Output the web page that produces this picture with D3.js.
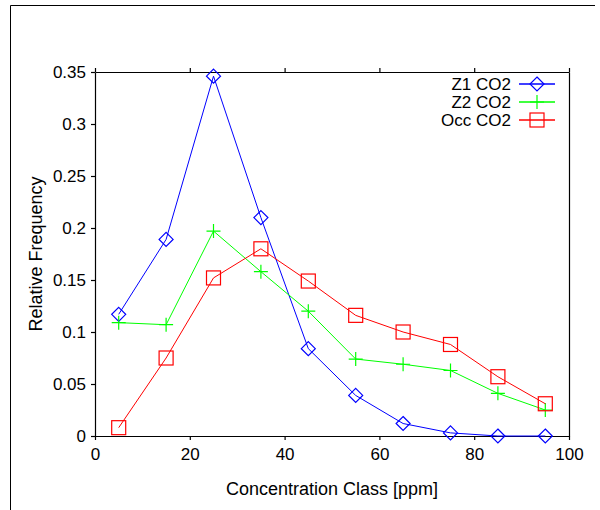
<!DOCTYPE html>
<html>
<head>
<meta charset="utf-8">
<script src="https://cdn.jsdelivr.net/npm/d3@7"></script>
<style>
  body { margin: 0; background: #fff; }
  text { font-family: "Liberation Sans", Arial, sans-serif; fill: #000; }
</style>
</head>
<body>
<div id="chart"></div>
<script>
// concentration classes (x) and relative frequencies per series
const classes = [5, 15, 25, 35, 45, 55, 65, 75, 85, 95];
const z1 = [0.117, 0.189, 0.346, 0.210, 0.084, 0.039, 0.012, 0.003, 0.0, 0.0];
const z2 = [0.109, 0.107, 0.197, 0.158, 0.120, 0.074, 0.069, 0.063, 0.041, 0.025];
const occ = [0.008, 0.075, 0.152, 0.180, 0.149, 0.116, 0.100, 0.088, 0.057, 0.031];
const seriesNames = ["Z1 CO2", "Z2 CO2", "Occ CO2"];
const xTicks = [0, 20, 40, 60, 80, 100];
const yTicks = [0, 0.05, 0.1, 0.15, 0.2, 0.25, 0.3, 0.35];

let svgWidth = 600;
let svgHeight = 510;
let margin = { top: 72, right: 31, bottom: 74, left: 95 };
let chartWidth = svgWidth - margin.left - margin.right;
let chartHeight = svgHeight - margin.top - margin.bottom;

let svg = d3.select("#chart").append("svg")
  .attr("width", svgWidth)
  .attr("height", svgHeight);

// outer frame (top and left edges visible)
svg.append("path")
  .attr("d", "M10.5,510 V5.5 H595")
  .attr("fill", "none")
  .attr("stroke", "#000")
  .attr("stroke-width", 1);

let xScale = d3.scaleLinear().domain([0, 100]).range([0, chartWidth]);
let yScale = d3.scaleLinear().domain([0, 0.35]).range([chartHeight, 0]);

let g = svg.append("g")
  .attr("transform", "translate(" + margin.left + "," + margin.top + ")");

// axes
let fmt = d3.format("");
let bottomAxis = g.append("g")
  .attr("transform", "translate(0," + chartHeight + ")")
  .call(d3.axisBottom(xScale).tickValues(xTicks).tickSize(4).tickPadding(8).tickFormat(fmt));
let topAxis = g.append("g")
  .call(d3.axisTop(xScale).tickValues(xTicks).tickSize(4).tickFormat(""));
let leftAxis = g.append("g")
  .call(d3.axisLeft(yScale).tickValues(yTicks).tickSize(4).tickPadding(5).tickFormat(fmt));
let rightAxis = g.append("g")
  .attr("transform", "translate(" + chartWidth + ",0)")
  .call(d3.axisRight(yScale).tickValues([]).tickSizeOuter(0));

[bottomAxis, topAxis, leftAxis, rightAxis].forEach(function(a) {
  a.selectAll("path.domain").attr("d", a === bottomAxis || a === topAxis
    ? "M0.5,0.5H" + (chartWidth + 0.5)
    : "M0.5,0.5V" + (chartHeight + 0.5));
  a.selectAll("path, line").attr("stroke", "#000").attr("stroke-width", 1.2);
  a.selectAll("text").style("font-size", "17px").style("font-family", "Liberation Sans, Arial, sans-serif");
});

// axis titles
svg.append("text")
  .attr("x", margin.left + chartWidth / 2)
  .attr("y", 495)
  .attr("text-anchor", "middle")
  .style("font-size", "18px")
  .text("Concentration Class [ppm]");

svg.append("text")
  .attr("transform", "translate(42," + (margin.top + chartHeight / 2) + ") rotate(-90)")
  .attr("text-anchor", "middle")
  .style("font-size", "18px")
  .text("Relative Frequency");

// marker shapes
function drawMarker(sel, type, color) {
  if (type === "diamond") {
    sel.append("path").attr("d", "M0,-7L7,0L0,7L-7,0Z")
      .attr("fill", "none").attr("stroke", color).attr("stroke-width", 1.2);
  } else if (type === "plus") {
    sel.append("path").attr("d", "M-7,0H7M0,-7V7")
      .attr("fill", "none").attr("stroke", color).attr("stroke-width", 1.2);
  } else {
    sel.append("rect").attr("x", -7).attr("y", -7).attr("width", 14).attr("height", 14)
      .attr("fill", "none").attr("stroke", color).attr("stroke-width", 1.2);
  }
}

let series = [
  { name: seriesNames[0], values: z1, color: "#0000ff", marker: "diamond" },
  { name: seriesNames[1], values: z2, color: "#00ff00", marker: "plus" },
  { name: seriesNames[2], values: occ, color: "#ff0000", marker: "square" }
];

let line = d3.line()
  .x(function(d) { return xScale(d.x); })
  .y(function(d) { return yScale(d.y); });

series.forEach(function(s) {
  let pts = classes.map(function(c, i) { return { x: c, y: s.values[i] }; });
  g.append("path")
    .datum(pts)
    .attr("d", line)
    .attr("fill", "none")
    .attr("stroke", s.color)
    .attr("stroke-width", 1);
  pts.forEach(function(p) {
    let m = g.append("g").attr("transform", "translate(" + xScale(p.x) + "," + yScale(p.y) + ")");
    drawMarker(m, s.marker, s.color);
  });
});

// legend
let legend = svg.append("g").attr("transform", "translate(511,84)");
series.forEach(function(s, i) {
  let row = legend.append("g").attr("transform", "translate(0," + (i * 18) + ")");
  row.append("text")
    .attr("x", 0)
    .attr("y", 0)
    .attr("dy", "0.35em")
    .attr("text-anchor", "end")
    .style("font-size", "17px")
    .text(s.name);
  row.append("line")
    .attr("x1", 8).attr("x2", 44).attr("y1", 0).attr("y2", 0)
    .attr("stroke", s.color).attr("stroke-width", 1.5);
  let m = row.append("g").attr("transform", "translate(26,0)");
  drawMarker(m, s.marker, s.color);
});
</script>
</body>
</html>
